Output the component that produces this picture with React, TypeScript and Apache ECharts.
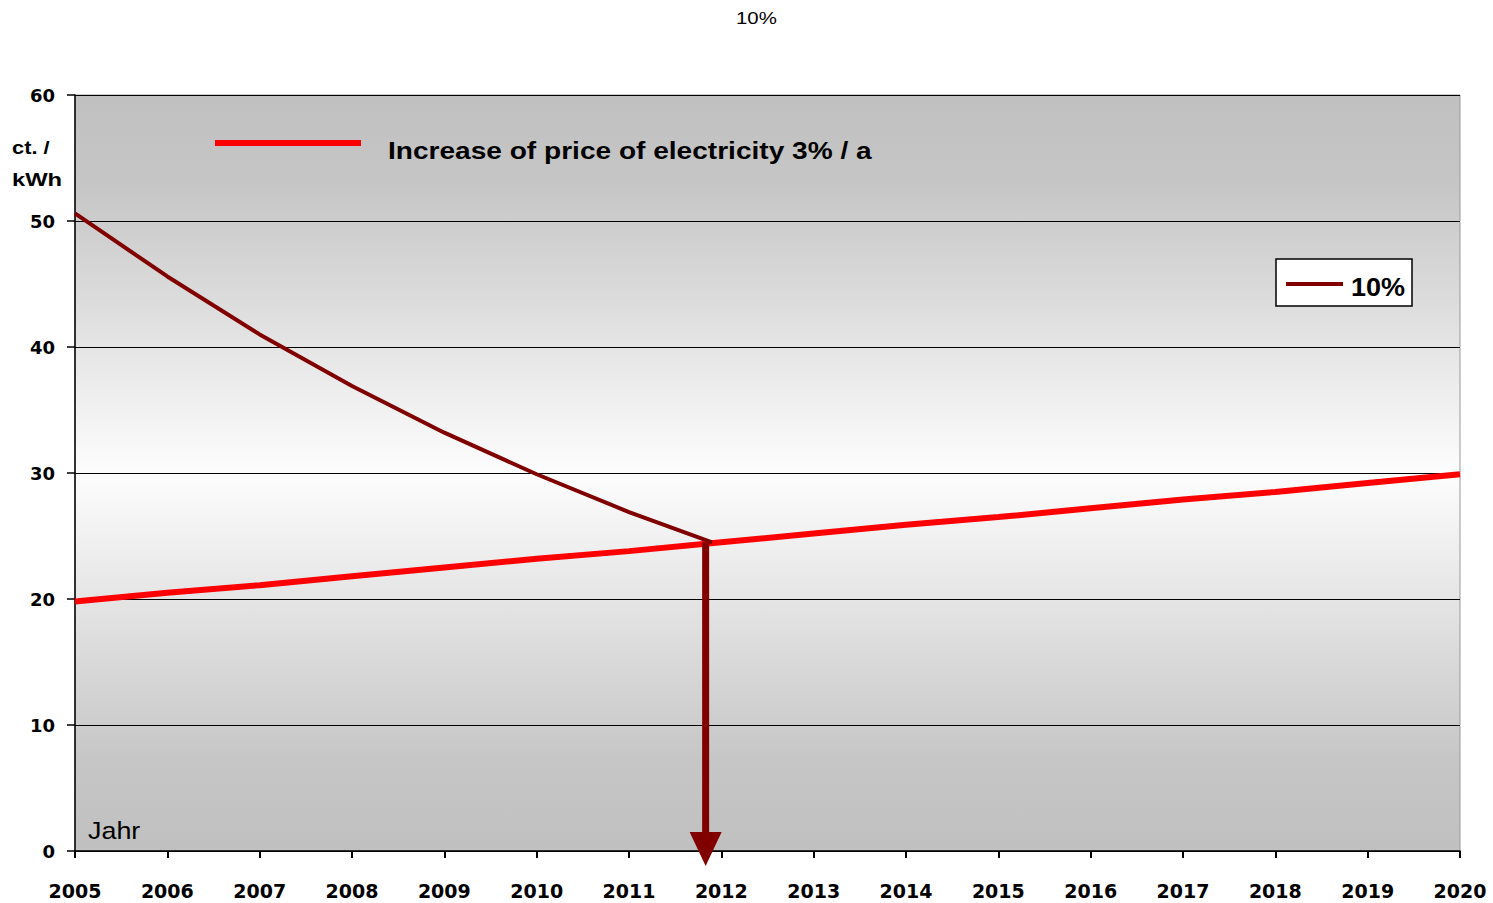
import React, { useEffect, useRef } from "react";
import * as echarts from "echarts";

const years = [2005, 2006, 2007, 2008, 2009, 2010, 2011, 2012, 2013, 2014, 2015, 2016, 2017, 2018, 2019, 2020];
const electricityPrice = [19.8, 20.5, 21.1, 21.8, 22.5, 23.2, 23.8, 24.5, 25.2, 25.9, 26.5, 27.2, 27.9, 28.5, 29.2, 29.9];
const costYears = [2005, 2006, 2007, 2008, 2009, 2010, 2011, 2011.9];
const costValues = [50.6, 45.6, 41.0, 36.9, 33.2, 29.9, 26.9, 24.5];
const arrowX = 2011.83;
const arrowFrom = 24.5;
const arrowTo = -1.2;
const yTicks = [0, 10, 20, 30, 40, 50, 60];

const FONT = "Liberation Sans, Arial, sans-serif";
const AXFONT = "DejaVu Sans, sans-serif";

export default function App() {
  const ref = useRef<HTMLDivElement>(null);
  useEffect(() => {
    if (!ref.current) return;
    const chart = echarts.init(ref.current, null, { renderer: "svg" });
    chart.setOption({
      animation: false,
      backgroundColor: "#ffffff",
      grid: {
        left: 75,
        right: 33,
        top: 95,
        bottom: 52,
        show: true,
        borderColor: "#999",
        borderWidth: 1,
        backgroundColor: {
          type: "linear",
          x: 0, y: 0, x2: 0, y2: 1,
          colorStops: [
            { offset: 0, color: "#c0c0c0" },
            { offset: 0.12, color: "#c6c6c6" },
            { offset: 0.5, color: "#fdfdfd" },
            { offset: 0.88, color: "#c6c6c6" },
            { offset: 1, color: "#c0c0c0" },
          ],
        },
      },
      xAxis: {
        type: "value",
        min: 2005,
        max: 2020,
        interval: 1,
        splitLine: { show: false },
        axisLine: { show: true, onZero: false, lineStyle: { color: "#000", width: 1.5 } },
        axisTick: { show: true, length: 7, lineStyle: { color: "#000", width: 2 } },
        axisLabel: {
          margin: 30,
          fontFamily: AXFONT,
          fontSize: 19,
          fontWeight: "bold",
          color: "#000",
          formatter: (v: number) => String(v),
        },
      },
      yAxis: {
        type: "value",
        min: 0,
        max: 60,
        interval: 10,
        axisLine: { show: true, lineStyle: { color: "#000", width: 1.5 } },
        axisTick: { show: true, length: 8, lineStyle: { color: "#000", width: 1.5 } },
        splitLine: { show: true, lineStyle: { color: "#000", width: 1.2 } },
        axisLabel: {
          margin: 20,
          fontFamily: AXFONT,
          fontSize: 18,
          fontWeight: "bold",
          color: "#000",
          formatter: (v: number) => (yTicks.includes(v) ? String(v) : ""),
        },
      },
      series: [
        {
          name: "Increase of price of electricity 3% / a",
          type: "line",
          data: years.map((y, i) => [y, electricityPrice[i]]),
          showSymbol: false,
          lineStyle: { color: "#ff0000", width: 6 },
          z: 3,
        },
        {
          name: "10%",
          type: "line",
          data: costYears.map((y, i) => [y, costValues[i]]),
          showSymbol: false,
          clip: false,
          lineStyle: { color: "#800000", width: 4 },
          z: 4,
        },
        {
          name: "arrow",
          type: "custom",
          clip: false,
          z: 5,
          silent: true,
          data: [[arrowX, arrowFrom, arrowTo]],
          renderItem: (params: any, api: any) => {
            const p1 = api.coord([api.value(0), api.value(1)]);
            const p2 = api.coord([api.value(0), api.value(2)]);
            const headH = 34;
            const headW = 32;
            return {
              type: "group",
              children: [
                {
                  type: "line",
                  shape: { x1: p1[0], y1: p1[1], x2: p2[0], y2: p2[1] - headH + 2 },
                  style: { stroke: "#800000", lineWidth: 7 },
                },
                {
                  type: "polygon",
                  shape: {
                    points: [
                      [p2[0] - headW / 2, p2[1] - headH],
                      [p2[0] + headW / 2, p2[1] - headH],
                      [p2[0], p2[1]],
                    ],
                  },
                  style: { fill: "#800000" },
                },
              ],
            };
          },
        },
      ],
      graphic: [
        {
          type: "text",
          x: 736,
          y: 18,
          scaleX: 1.2,
          style: { text: "10%", font: `17px ${FONT}`, fill: "#000", textVerticalAlign: "middle" },
        },
        {
          type: "line",
          shape: { x1: 215, y1: 143, x2: 361, y2: 143 },
          style: { stroke: "#ff0000", lineWidth: 6 },
          z: 10,
        },
        {
          type: "text",
          x: 388,
          y: 151,
          scaleX: 1.17,
          style: {
            text: "Increase of price of electricity 3% / a",
            font: `bold 24px ${FONT}`,
            fill: "#000",
            textVerticalAlign: "middle",
          },
          z: 10,
        },
        {
          type: "rect",
          shape: { x: 1276, y: 259, width: 136, height: 47 },
          style: { fill: "#ffffff", stroke: "#000", lineWidth: 1.5 },
          z: 10,
        },
        {
          type: "line",
          shape: { x1: 1286, y1: 284, x2: 1343, y2: 284 },
          style: { stroke: "#800000", lineWidth: 4 },
          z: 11,
        },
        {
          type: "text",
          x: 1351,
          y: 287,
          scaleX: 1.08,
          style: { text: "10%", font: `bold 25px ${FONT}`, fill: "#000", textVerticalAlign: "middle" },
          z: 11,
        },
        {
          type: "text",
          x: 12,
          y: 147,
          scaleX: 1.15,
          style: { text: "ct. /", font: `bold 19px ${FONT}`, fill: "#000", textVerticalAlign: "middle" },
        },
        {
          type: "text",
          x: 12,
          y: 180,
          scaleX: 1.25,
          style: { text: "kWh", font: `bold 19px ${FONT}`, fill: "#000", textVerticalAlign: "middle" },
        },
        {
          type: "text",
          x: 88,
          y: 831,
          scaleX: 1.12,
          style: { text: "Jahr", font: `24px ${FONT}`, fill: "#000", textVerticalAlign: "middle" },
          z: 10,
        },
      ],
    });
    return () => chart.dispose();
  }, []);
  return <div ref={ref} style={{ position: "fixed", left: 0, top: 0, width: 1493, height: 903 }} />;
}
